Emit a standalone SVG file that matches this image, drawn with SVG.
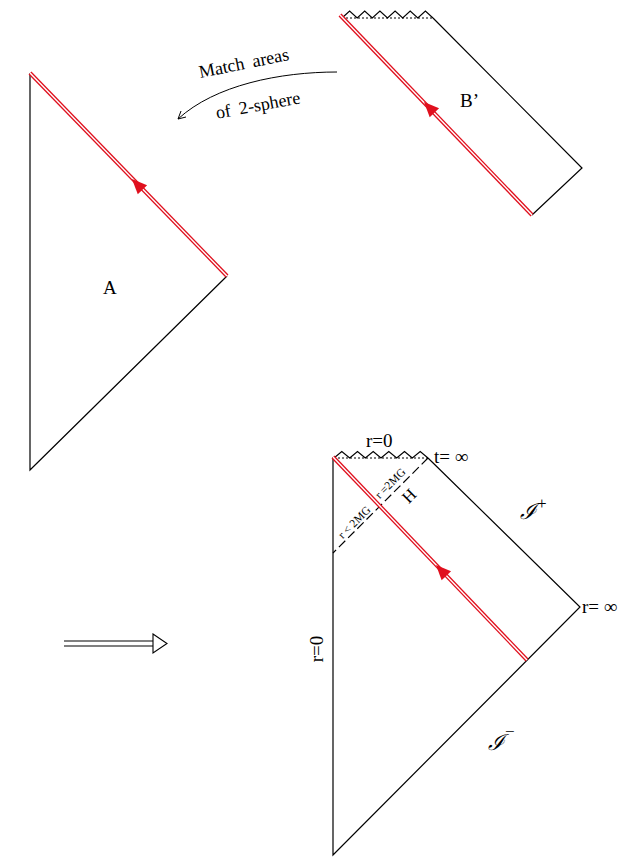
<svg xmlns="http://www.w3.org/2000/svg" width="632" height="862" viewBox="0 0 632 862">
<style>
.ln{fill:none;stroke:#000;stroke-width:1.2}
.rd{fill:none;stroke:#e0101e;stroke-width:4}
.rw{fill:none;stroke:#fff;stroke-width:1.4}
.zz{fill:none;stroke:#000;stroke-width:1.1}
.dt{fill:none;stroke:#000;stroke-width:1;stroke-dasharray:2 2}
.ah{fill:#e0101e;stroke:none}
text{font-family:"Liberation Serif","Times New Roman",serif;fill:#000}
.t18{font-size:18px;word-spacing:4px}
.t17{font-size:17px}
.t19{font-size:19px}
.t12{font-size:11.5px}
.scri{font-family:"DejaVu Serif",serif;font-style:italic;font-size:22px}
</style>
<defs>
<path id="arrowRed" d="M0,0 L-15,-6.5 L-15,6.5 Z"/>
</defs>

<g id="nodeB">
<path class="zz" d="M342,18 L349.6,11 L357.2,18 L364.7,11 L372.3,18 L379.9,11 L387.5,18 L395.1,11 L402.7,18 L410.2,11 L417.8,18 L425.4,11 L433,18"/>
<line class="dt" x1="342" y1="18" x2="433" y2="18"/>
<polyline class="ln" points="433,18 582,168 532,215"/>
<line class="rd" x1="340" y1="15" x2="532" y2="215"/>
<line class="rw" x1="340" y1="15" x2="532" y2="215"/>
<use href="#arrowRed" class="ah" transform="translate(424,102) rotate(226.2)"/>
<text class="t19" x="460" y="107">B’</text>
</g>

<g id="label-match">
<text class="t18" transform="translate(245,69) rotate(-11.5)" text-anchor="middle">Match  areas</text>
<text class="t18" transform="translate(259,111) rotate(-10.5)" text-anchor="middle">of  2-sphere</text>
<path class="ln" d="M337,72 C280,72 215,85 178,119" style="stroke-width:1"/>
<path class="ln" d="M181,111 L178,119 L186,117" style="stroke-width:1"/>
</g>

<g id="nodeA">
<polyline class="ln" points="30,73 30,470 227,276"/>
<line class="rd" x1="30" y1="73" x2="227" y2="276"/>
<line class="rw" x1="30" y1="73" x2="227" y2="276"/>
<use href="#arrowRed" class="ah" transform="translate(132,179) rotate(225.9)"/>
<text class="t19" x="103" y="294">A</text>
</g>

<g id="implies">
<line class="ln" x1="64" y1="641" x2="154" y2="641"/>
<line class="ln" x1="64" y1="646" x2="154" y2="646"/>
<path d="M153,634 L167,643.5 L153,653 Z" fill="#fff" stroke="#000" stroke-width="1.1"/>
</g>

<g id="nodeC">
<path class="zz" d="M334,458 L341.8,451.5 L349.7,458 L357.5,451.5 L365.3,458 L373.2,451.5 L381,458 L388.8,451.5 L396.7,458 L404.5,451.5 L412.3,458 L420.2,451.5 L428,458"/>
<line class="dt" x1="334" y1="458" x2="428" y2="458"/>
<polyline class="ln" points="428,458 580,607 333,855 333,457"/>
<line class="ln" x1="428" y1="458" x2="333" y2="553" style="stroke-dasharray:9 4"/>
<line class="rd" x1="333" y1="457" x2="527" y2="660"/>
<line class="rw" x1="333" y1="457" x2="527" y2="660"/>
<use href="#arrowRed" class="ah" transform="translate(436,565) rotate(226.3)"/>
<text class="t19" x="366" y="447">r=0</text>
<text class="t19" x="434" y="463">t=  ∞</text>
<text class="t19" x="582" y="613">r=  ∞</text>
<text class="t19" transform="translate(323,649) rotate(-90)" text-anchor="middle">r=0</text>
<text class="t12" transform="translate(357,525) rotate(-45)" text-anchor="middle">r &lt; 2MG</text>
<text class="t12" transform="translate(393,486) rotate(-45)" text-anchor="middle">r =2MG</text>
<text class="t17" transform="translate(413,500) rotate(-45)" text-anchor="middle">H</text>
<text class="scri" x="520" y="519">ℐ</text>
<text class="t17" x="537" y="509">+</text>
<text class="scri" x="488" y="750">ℐ</text>
<text class="t17" x="505" y="737">−</text>
</g>
</svg>
